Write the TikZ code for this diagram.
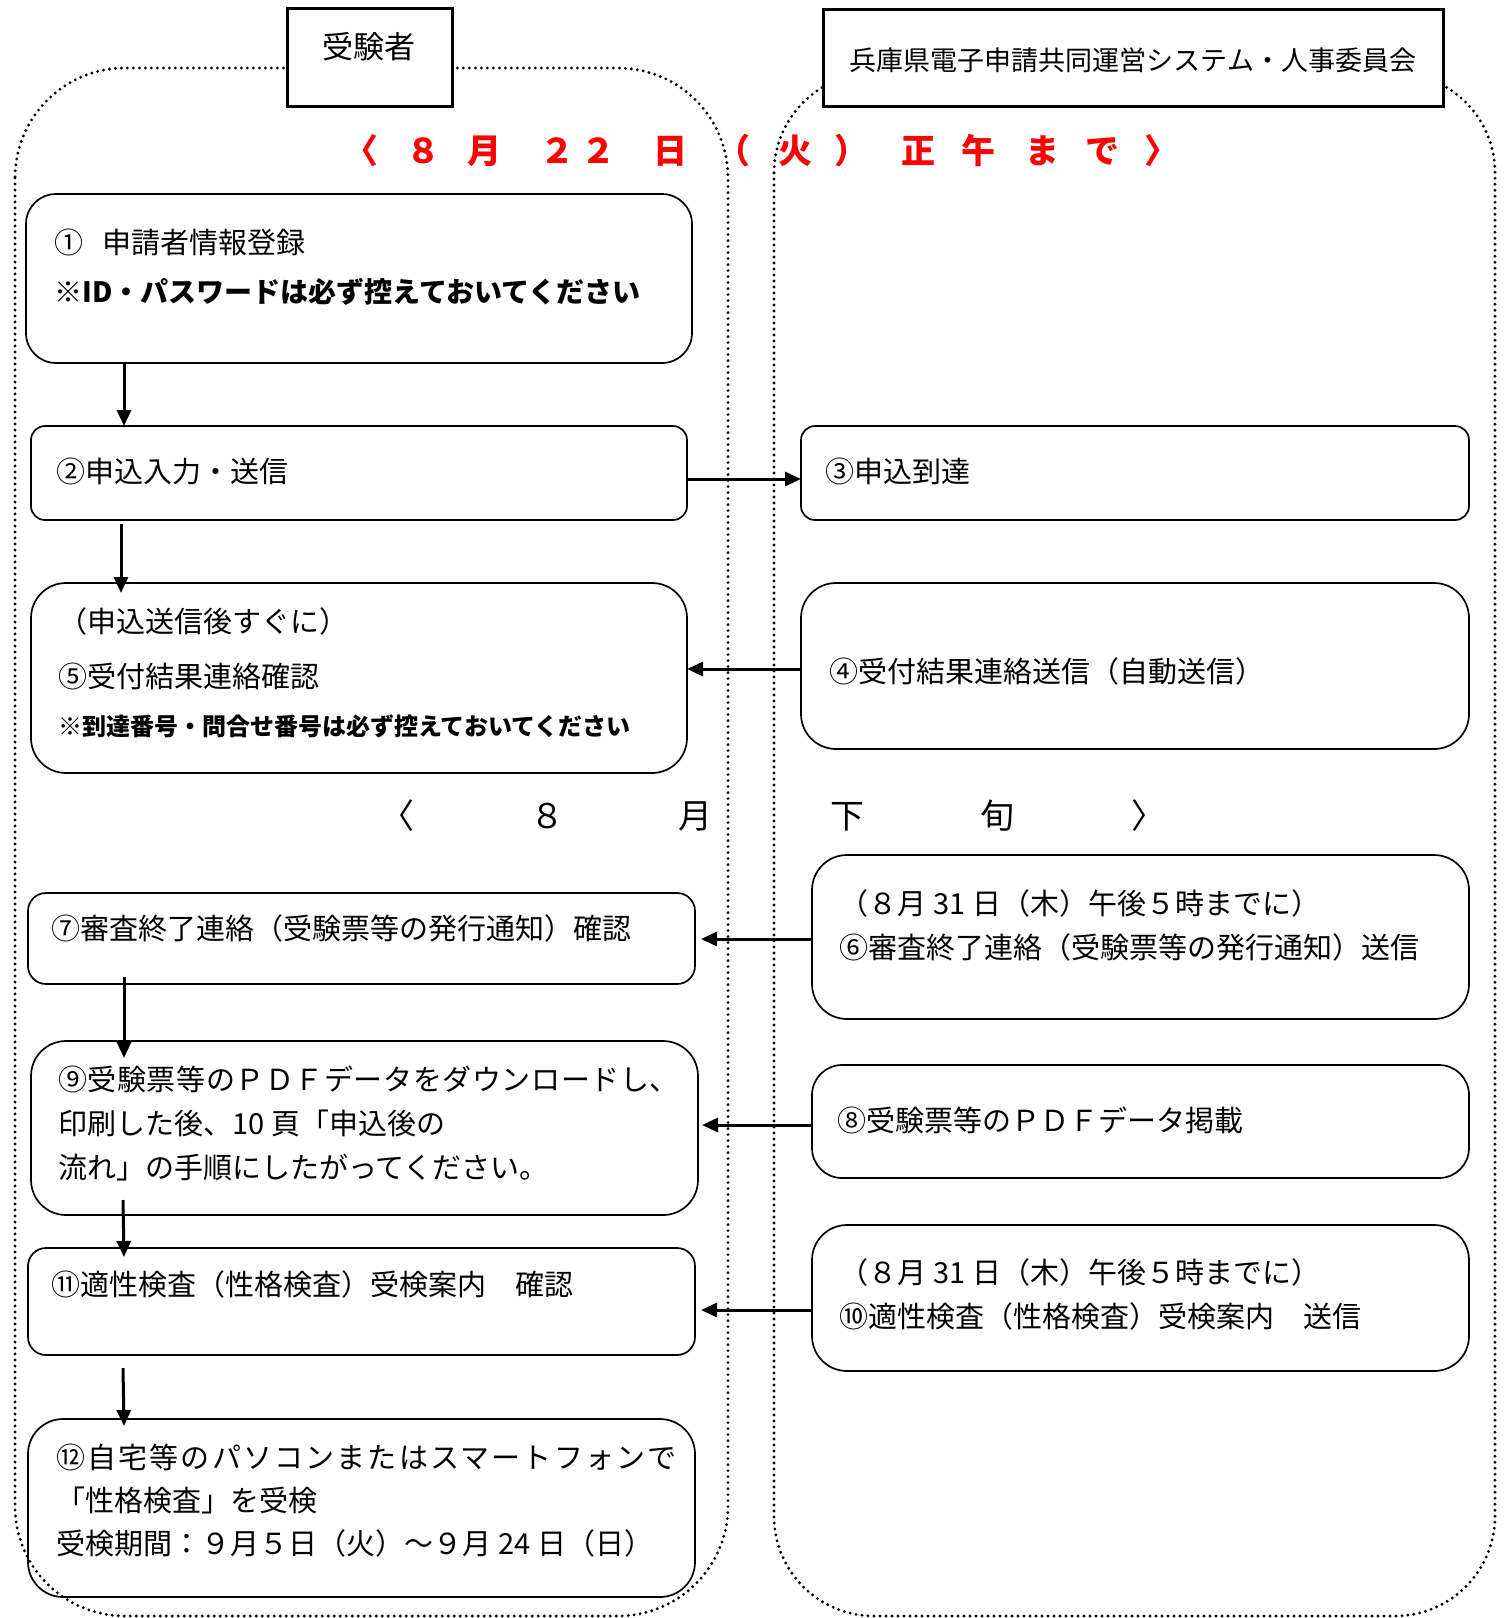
\documentclass[tikz,border=0pt]{standalone}
\usepackage{fontspec}
\newfontfamily\jp{Noto Sans CJK JP}
\usetikzlibrary{arrows.meta}
\begin{document}
\begin{tikzpicture}[x=1pt,y=-1pt,
  box/.style={draw, line width=1.7pt, anchor=north west, inner sep=0pt, outer sep=0pt},
  hdr/.style={draw, line width=3pt, anchor=north west, fill=white, inner sep=0pt, outer sep=0pt},
  txt/.style={anchor=west, inner sep=0pt, font=\jp\fontsize{29}{29}\selectfont},
  notebig/.style={anchor=west, inner sep=0pt, font=\jp\bfseries\fontsize{28}{28}\selectfont},
  notesmall/.style={anchor=west, inner sep=0pt, font=\jp\bfseries\fontsize{24}{24}\selectfont},
  redch/.style={anchor=base, inner sep=0pt, text=red, font=\jp\bfseries\fontsize{34}{34}\selectfont},
  blkch/.style={anchor=base, inner sep=0pt, font=\jp\fontsize{34}{34}\selectfont},
  arr/.style={-{Triangle[length=16pt,width=14pt]}, line width=3pt},
  lane/.style={line width=3.2pt, dash pattern=on 0pt off 6pt, line cap=round}
]
\useasboundingbox (0,0) rectangle (1506,1618);

% lanes
\draw[lane, rounded corners=110pt] (15,68) rectangle (728,1616);
\draw[lane, rounded corners=100pt] (774,73) rectangle (1495,1616);

% headers
\node[hdr, minimum width=165pt, minimum height=98pt] (h1) at (287,8) {};
\node[anchor=center, inner sep=0pt, font=\jp\fontsize{31}{31}\selectfont] (h1t) at (369,47) {受験者};
\node[hdr, minimum width=620pt, minimum height=97pt] (h2) at (823,9) {};
\node[anchor=center, inner sep=0pt, font=\jp\fontsize{27}{27}\selectfont] (h2t) at (1133,60) {兵庫県電子申請共同運営システム・人事委員会};

% red date line
\foreach \x/\c [count=\i] in {361/〈,423/８,484/月,557/２,598/２,670/日,733/（,795/火,851/）,918/正,978/午,1042/ま,1102/で,1161/〉}
  \node[redch] (r\i) at (\x,163) {\c};

% black month line
\foreach \x/\c [count=\i] in {397/〈,547/８,695/月,847/下,997/旬,1148/〉}
  \node[blkch] (k\i) at (\x,828) {\c};

% boxes
\node[box, rounded corners=30pt, minimum width=666pt, minimum height=169pt] (b1) at (26,194) {};
\node[box, rounded corners=14pt, minimum width=656pt, minimum height=94pt] (b2) at (31,426) {};
\node[box, rounded corners=14pt, minimum width=668pt, minimum height=94pt] (b3) at (801,426) {};
\node[box, rounded corners=35pt, minimum width=656pt, minimum height=190pt] (b5) at (31,583) {};
\node[box, rounded corners=35pt, minimum width=668pt, minimum height=166pt] (b4) at (801,583) {};
\node[box, rounded corners=18pt, minimum width=667pt, minimum height=91pt] (b7) at (28,893) {};
\node[box, rounded corners=35pt, minimum width=657pt, minimum height=164pt] (b6) at (812,855) {};
\node[box, rounded corners=35pt, minimum width=667pt, minimum height=174pt] (b9) at (31,1041) {};
\node[box, rounded corners=30pt, minimum width=657pt, minimum height=113pt] (b8) at (812,1065) {};
\node[box, rounded corners=18pt, minimum width=667pt, minimum height=107pt] (b11) at (28,1248) {};
\node[box, rounded corners=35pt, minimum width=657pt, minimum height=146pt] (b10) at (812,1225) {};
\node[box, rounded corners=35pt, minimum width=667pt, minimum height=178pt] (b12) at (28,1419) {};

% texts
\node[txt] (t1a) at (54,242) {①\hspace{0.65em}申請者情報登録};
\node[notebig] (t1b) at (54,292) {※ID・パスワードは必ず控えておいてください};
\node[txt] (t2) at (56,471) {②申込入力・送信};
\node[txt] (t3) at (825,471) {③申込到達};
\node[txt] (t5a) at (58,621) {（申込送信後すぐに）};
\node[txt] (t5b) at (58,676) {⑤受付結果連絡確認};
\node[notesmall] (t5c) at (58,726) {※到達番号・問合せ番号は必ず控えておいてください};
\node[txt] (t4) at (829,671) {④受付結果連絡送信（自動送信）};
\node[txt] (t7) at (51,928) {⑦審査終了連絡（受験票等の発行通知）確認};
\node[txt] (t6a) at (839,903) {（８月\hspace{0.25em}31\hspace{0.25em}日（木）午後５時までに）};
\node[txt] (t6b) at (839,947) {⑥審査終了連絡（受験票等の発行通知）送信};
\node[txt, font=\jp\fontsize{29}{29}\selectfont\addfontfeature{LetterSpace=2}] (t9a) at (58,1079) {⑨受験票等のＰＤＦデータをダウンロードし、};
\node[txt] (t9b) at (58,1123) {印刷した後、10\hspace{0.25em}頁「申込後の};
\node[txt] (t9c) at (58,1167) {流れ」の手順にしたがってください。};
\node[txt] (t8) at (837,1120) {⑧受験票等のＰＤＦデータ掲載};
\node[txt] (t11) at (51,1284) {⑪適性検査（性格検査）受検案内　確認};
\node[txt] (t10a) at (839,1272) {（８月\hspace{0.25em}31\hspace{0.25em}日（木）午後５時までに）};
\node[txt] (t10b) at (839,1316) {⑩適性検査（性格検査）受検案内　送信};
\node[txt, font=\jp\fontsize{29}{29}\selectfont\addfontfeature{LetterSpace=7.5}] (t12a) at (56,1457) {⑫自宅等のパソコンまたはスマートフォンで};
\node[txt] (t12b) at (56,1500) {「性格検査」を受検};
\node[txt] (t12c) at (56,1543) {受検期間：９月５日（火）～９月\hspace{0.25em}24\hspace{0.25em}日（日）};

% connectors
\draw[arr] ([xshift=98pt]b1.south west) -- ([xshift=93pt]b2.north west);
\draw[arr] ([yshift=-6pt]b2.east) -- ([yshift=-6pt]b3.west);
\draw[arr] ([xshift=90pt,yshift=-4pt]b2.south west) -- ([xshift=90pt,yshift=-10pt]b5.north west);
\draw[arr] ([yshift=-3pt]b4.west) -- ([yshift=9pt]b5.east);
\draw[arr] ([yshift=-2pt]b6.west) -- ([xshift=6pt,yshift=-0.5pt]b7.east);
\draw[arr] ([xshift=96pt,yshift=7pt]b7.south west) -- ([xshift=93pt,yshift=-17pt]b9.north west);
\draw[arr] ([yshift=-3.5pt]b8.west) -- ([xshift=4pt,yshift=3pt]b9.east);
\draw[arr] ([xshift=92pt,yshift=15pt]b9.south west) -- ([xshift=96pt,yshift=-9pt]b11.north west);
\draw[arr] ([yshift=-12pt]b10.west) -- ([xshift=6pt,yshift=-8.5pt]b11.east);
\draw[arr] ([xshift=95pt,yshift=-13pt]b11.south west) -- ([xshift=96pt,yshift=-7pt]b12.north west);
\end{tikzpicture}
\end{document}
